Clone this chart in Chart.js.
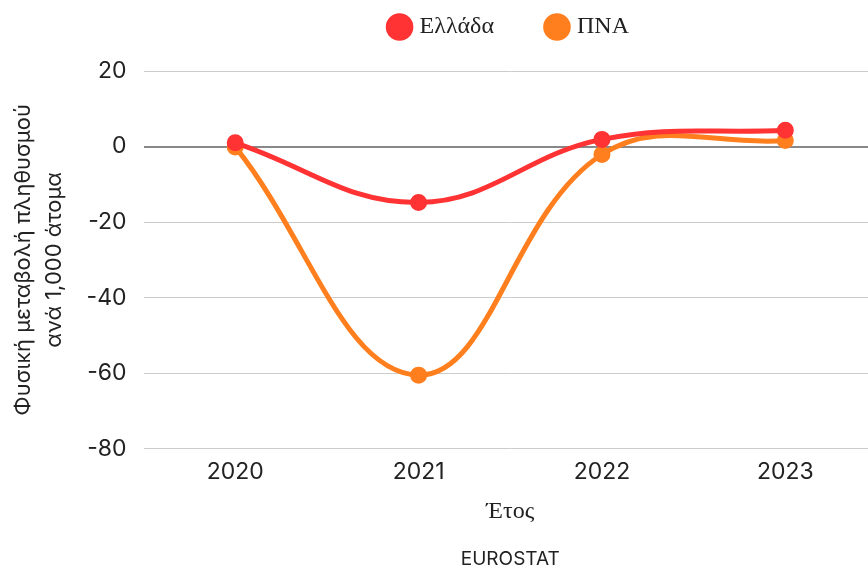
<!DOCTYPE html>
<html>
<head>
<meta charset="utf-8">
<script src="https://cdn.jsdelivr.net/npm/chart.js@4/dist/chart.umd.min.js"></script>
<style>
  html, body { margin: 0; padding: 0; background: #fff; overflow: hidden; }
  #wrap { width: 868px; height: 569px; overflow: hidden; }
</style>
</head>
<body>
<div id="wrap"><canvas id="chart" width="888" height="569"></canvas></div>
<script>
// values
const years = ['2020', '2021', '2022', '2023'];
const greece = [1.0, -14.8, 1.9, 4.3];
const eu = [-0.1, -60.5, -2.1, 1.6];

const sans = "Inter, sans-serif";
const serif = "'Liberation Serif', serif";

// extra room between legend and plot
const legendGap = {
  id: 'legendGap',
  beforeInit(chart) {
    const fit = chart.legend.fit;
    chart.legend.fit = function () {
      fit.call(this);
      this.height += 22;
    };
  },
};

new Chart(document.getElementById('chart').getContext('2d'), {
  type: 'line',
  data: {
    labels: years,
    datasets: [
      {
        label: 'Ελλάδα',
        data: greece,
        borderColor: '#ff3333',
        backgroundColor: '#ff3333',
        borderWidth: 5,
        pointRadius: 6,
        tension: 0.4,
      },
      {
        label: 'ΠΝΑ',
        data: eu,
        borderColor: '#ff7f1e',
        backgroundColor: '#ff7f1e',
        borderWidth: 5,
        pointRadius: 6,
        tension: 0.4,
      },
    ],
  },
  plugins: [legendGap],
  options: {
    responsive: false,
    animation: false,
    layout: { padding: { top: -40, bottom: -2 } },
    plugins: {
      legend: {
        fullSize: false,
        labels: {
          usePointStyle: true,
          pointStyle: 'circle',
          boxWidth: 16,
          boxHeight: 16,
          padding: 55,
          color: '#222',
          font: { family: serif, size: 24 },
        },
      },
      title: {
        display: true,
        position: 'bottom',
        fullSize: false,
        text: 'EUROSTAT',
        color: '#222',
        font: { family: sans, size: 19, weight: 'normal' },
        padding: { top: 22, bottom: 0 },
      },
      tooltip: { enabled: false },
    },
    scales: {
      x: {
        offset: true,
        grid: { display: false },
        border: { display: false },
        ticks: { color: '#222', font: { family: sans, size: 23 }, padding: 1 },
        title: {
          display: true,
          text: 'Έτος',
          color: '#222',
          font: { family: serif, size: 24 },
          padding: { top: 11, bottom: 0 },
        },
      },
      y: {
        min: -80,
        max: 20,
        border: { display: false },
        grid: {
          color: ctx => ctx.tick && ctx.tick.value === 0 ? '#888' : '#ccc',
          lineWidth: ctx => ctx.tick && ctx.tick.value === 0 ? 2 : 1,
          drawTicks: false,
        },
        ticks: {
          stepSize: 20,
          color: '#222',
          padding: 17,
          font: { family: sans, size: 23 },
        },
        title: {
          display: true,
          text: ['Φυσική μεταβολή πληθυσμού', 'ανά 1,000 άτομα'],
          color: '#222',
          font: { family: sans, size: 22, lineHeight: 1.4 },
          padding: { top: 8, bottom: 0 },
        },
      },
    },
  },
});
</script>
</body>
</html>
